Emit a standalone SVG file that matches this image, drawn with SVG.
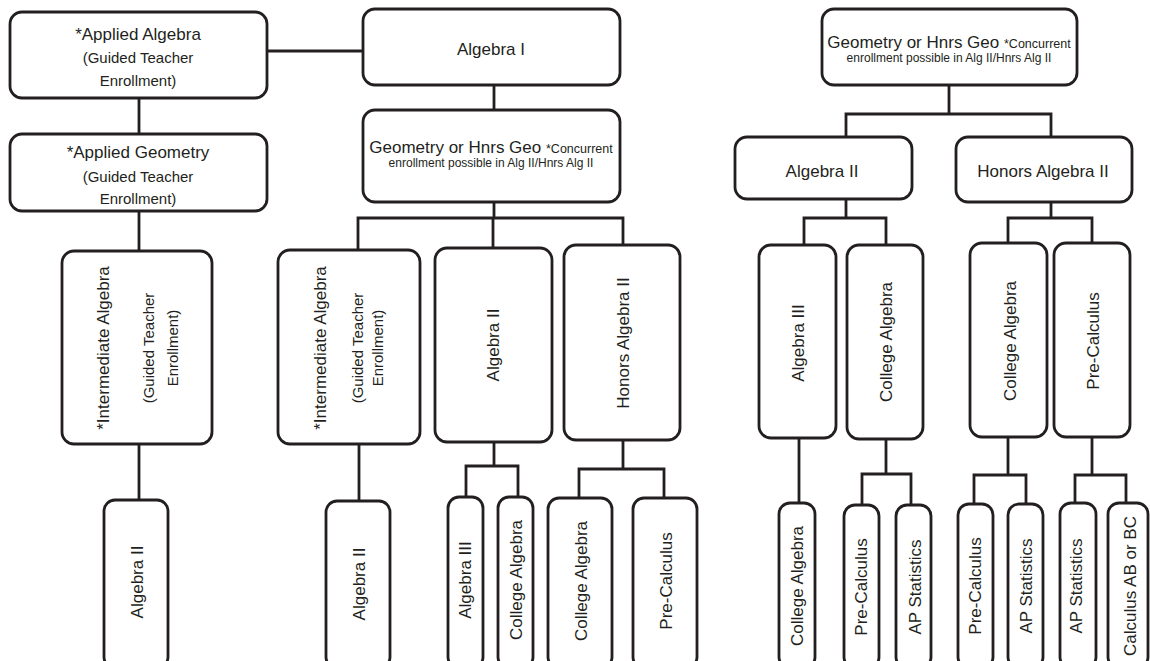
<svg xmlns="http://www.w3.org/2000/svg" width="1150" height="661" viewBox="0 0 1150 661">
<style>
.b{fill:#fff;stroke:#231f20;stroke-width:2.8}
.c{fill:none;stroke:#231f20;stroke-width:2.8;stroke-linejoin:miter;stroke-linecap:butt}
text{font-family:"Liberation Sans",Arial,sans-serif;fill:#231f20;text-anchor:middle}
.l{font-size:17px}
.m{font-size:15px}
.s{font-size:12.5px}
.s2{font-size:12px}
</style>
<rect width="1150" height="661" fill="#fff"/>
<g id="connectors">
<path class="c" d="M267,51H363"/>
<path class="c" d="M139,98V134"/>
<path class="c" d="M139,211V251"/>
<path class="c" d="M139,444V500"/>
<path class="c" d="M494,85V110"/>
<path class="c" d="M494,202V218"/>
<path class="c" d="M358,250V218H623V245M493,218V248"/>
<path class="c" d="M359,444V501"/>
<path class="c" d="M494,442V466M466,497V466H518V497"/>
<path class="c" d="M623,440V469M579,498V469H664V498"/>
<path class="c" d="M949,85V114M846,137V114H1051V137"/>
<path class="c" d="M846,199V218M804,245V218H886V245"/>
<path class="c" d="M1051,202V218M1008,243V218H1092V243"/>
<path class="c" d="M799,438V503"/>
<path class="c" d="M886,439V474M862,505V474H911V505"/>
<path class="c" d="M1008,437V475M974,504V475H1026V504"/>
<path class="c" d="M1092,437V475M1075,503V475H1126V503"/>
</g>
<g id="applied-algebra">
<rect class="b" x="10" y="12" width="257" height="86" rx="12"/>
<text class="l" x="138" y="40">*Applied Algebra</text>
<text class="m" x="138" y="63">(Guided Teacher</text>
<text class="m" x="138" y="86">Enrollment)</text>
</g>
<g id="applied-geometry">
<rect class="b" x="10" y="134" width="257" height="77" rx="12"/>
<text class="l" x="138" y="158">*Applied Geometry</text>
<text class="m" x="138" y="182">(Guided Teacher</text>
<text class="m" x="138" y="204">Enrollment)</text>
</g>
<g id="algebra-1">
<rect class="b" x="363" y="9" width="257" height="76" rx="12"/>
<text class="l" x="491" y="55">Algebra I</text>
</g>
<g id="geometry-mid">
<rect class="b" x="363" y="110" width="257" height="92" rx="12"/>
<text x="491" y="153"><tspan class="l">Geometry or Hnrs Geo </tspan><tspan class="s">*Concurrent</tspan></text>
<text class="s2" x="491" y="167">enrollment possible in Alg II/Hnrs Alg II</text>
</g>
<g id="geometry-right">
<rect class="b" x="822" y="9" width="255" height="76" rx="12"/>
<text x="949" y="48"><tspan class="l">Geometry or Hnrs Geo </tspan><tspan class="s">*Concurrent</tspan></text>
<text class="s2" x="949" y="62">enrollment possible in Alg II/Hnrs Alg II</text>
</g>
<g id="algebra-2-right">
<rect class="b" x="735" y="137" width="177" height="62" rx="12"/>
<text class="l" x="822" y="177">Algebra II</text>
</g>
<g id="honors-algebra-2-right">
<rect class="b" x="956" y="137" width="176" height="65" rx="12"/>
<text class="l" x="1043" y="177">Honors Algebra II</text>
</g>
<g id="intermediate-1">
<rect class="b" x="62" y="251" width="150" height="193" rx="12"/>
<text class="l" transform="translate(109,348) rotate(-90)">*Intermediate Algebra</text>
<text class="m" transform="translate(154,348) rotate(-90)">(Guided Teacher</text>
<text class="m" transform="translate(178,348) rotate(-90)">Enrollment)</text>
</g>
<g id="intermediate-2">
<rect class="b" x="278" y="250" width="142" height="194" rx="12"/>
<text class="l" transform="translate(326,348) rotate(-90)">*Intermediate Algebra</text>
<text class="m" transform="translate(363,348) rotate(-90)">(Guided Teacher</text>
<text class="m" transform="translate(383,348) rotate(-90)">Enrollment)</text>
</g>
<g id="algebra-2-mid">
<rect class="b" x="435" y="248" width="117" height="194" rx="12"/>
<text class="l" transform="translate(499,345) rotate(-90)">Algebra II</text>
</g>
<g id="honors-algebra-2-mid">
<rect class="b" x="564" y="245" width="116" height="195" rx="12"/>
<text class="l" transform="translate(629,343) rotate(-90)">Honors Algebra II</text>
</g>
<g id="algebra-3-right">
<rect class="b" x="759" y="245" width="77" height="193" rx="12"/>
<text class="l" transform="translate(804,343) rotate(-90)">Algebra III</text>
</g>
<g id="college-algebra-right">
<rect class="b" x="847" y="245" width="76" height="194" rx="12"/>
<text class="l" transform="translate(892,342) rotate(-90)">College Algebra</text>
</g>
<g id="college-algebra-honors">
<rect class="b" x="970" y="243" width="77" height="194" rx="12"/>
<text class="l" transform="translate(1016,341) rotate(-90)">College Algebra</text>
</g>
<g id="pre-calculus-honors">
<rect class="b" x="1054" y="243" width="76" height="194" rx="12"/>
<text class="l" transform="translate(1099,341) rotate(-90)">Pre-Calculus</text>
</g>
<g id="algebra-2-left-bottom">
<rect class="b" x="104" y="500" width="64" height="168" rx="11"/>
<text class="l" transform="translate(143,582) rotate(-90)">Algebra II</text>
</g>
<g id="algebra-2-mid-bottom">
<rect class="b" x="326" y="501" width="64" height="167" rx="11"/>
<text class="l" transform="translate(365,584) rotate(-90)">Algebra II</text>
</g>
<g id="algebra-3-mid-bottom">
<rect class="b" x="448" y="497" width="35" height="171" rx="11"/>
<text class="l" transform="translate(471,580) rotate(-90)">Algebra III</text>
</g>
<g id="college-algebra-mid-bottom-1">
<rect class="b" x="498" y="497" width="35" height="171" rx="11"/>
<text class="l" transform="translate(522,580) rotate(-90)">College Algebra</text>
</g>
<g id="college-algebra-mid-bottom-2">
<rect class="b" x="548" y="498" width="64" height="170" rx="11"/>
<text class="l" transform="translate(587,581) rotate(-90)">College Algebra</text>
</g>
<g id="pre-calculus-mid-bottom">
<rect class="b" x="633" y="498" width="64" height="170" rx="11"/>
<text class="l" transform="translate(672,581) rotate(-90)">Pre-Calculus</text>
</g>
<g id="college-algebra-right-bottom">
<rect class="b" x="779" y="503" width="36" height="165" rx="11"/>
<text class="l" transform="translate(803,586) rotate(-90)">College Algebra</text>
</g>
<g id="pre-calculus-right-bottom-1">
<rect class="b" x="844" y="505" width="35" height="163" rx="11"/>
<text class="l" transform="translate(867,587) rotate(-90)">Pre-Calculus</text>
</g>
<g id="ap-statistics-right-bottom-1">
<rect class="b" x="896" y="505" width="35" height="163" rx="11"/>
<text class="l" transform="translate(921,587) rotate(-90)">AP Statistics</text>
</g>
<g id="pre-calculus-right-bottom-2">
<rect class="b" x="958" y="504" width="35" height="164" rx="11"/>
<text class="l" transform="translate(981,586) rotate(-90)">Pre-Calculus</text>
</g>
<g id="ap-statistics-right-bottom-2">
<rect class="b" x="1008" y="504" width="35" height="164" rx="11"/>
<text class="l" transform="translate(1032,586) rotate(-90)">AP Statistics</text>
</g>
<g id="ap-statistics-right-bottom-3">
<rect class="b" x="1060" y="503" width="36" height="165" rx="11"/>
<text class="l" transform="translate(1082,586) rotate(-90)">AP Statistics</text>
</g>
<g id="calculus-ab-bc">
<rect class="b" x="1108" y="503" width="40" height="165" rx="11"/>
<text class="l" transform="translate(1136,586) rotate(-90)">Calculus AB or BC</text>
</g>
</svg>
